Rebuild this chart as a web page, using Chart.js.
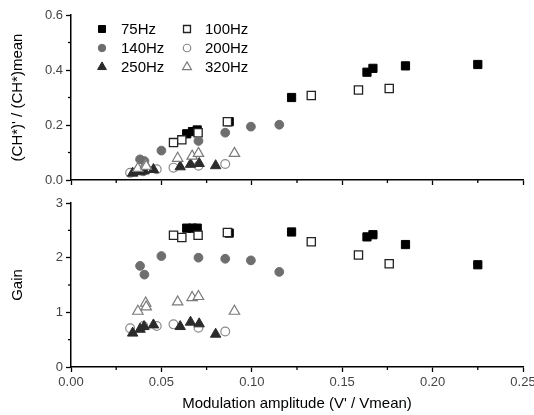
<!DOCTYPE html>
<html>
<head>
<meta charset="utf-8">
<script src="https://cdn.jsdelivr.net/npm/chart.js@4/dist/chart.umd.min.js"></script>
<style>
  body{margin:0;background:#fff;width:534px;height:415px;overflow:hidden}
  .panel{position:absolute;left:0}
</style>
</head>
<body>
<div class="panel" style="top:0"><canvas id="top" width="534" height="200"></canvas></div>
<div class="panel" style="top:190px"><canvas id="bottom" width="534" height="225"></canvas></div>
<script>
// series: x = modulation amplitude, ratio = (CH*)'/(CH*)mean, gain
const labels=['75Hz','100Hz','140Hz','200Hz','250Hz','320Hz']

const x75=[0.064,0.0672,0.0698,0.0875,0.122,0.1637,0.167,0.185,0.225]
const ratio75=[0.168,0.176,0.182,0.212,0.300,0.392,0.406,0.415,0.420]
const gain75=[2.54,2.54,2.54,2.45,2.47,2.38,2.42,2.24,1.87]

const x100=[0.0567,0.0613,0.0703,0.0865,0.1329,0.159,0.176]
const ratio100=[0.136,0.146,0.172,0.212,0.307,0.327,0.333]
const gain100=[2.41,2.37,2.41,2.46,2.29,2.05,1.89]

const x140=[0.0382,0.0406,0.050,0.0705,0.0853,0.0995,0.1152]
const ratio140=[0.075,0.069,0.107,0.142,0.172,0.194,0.201]
const gain140=[1.85,1.69,2.03,2.00,1.98,1.95,1.74]

const x200=[0.0327,0.0400,0.0474,0.0567,0.0705,0.0853]
const ratio200=[0.026,0.032,0.039,0.045,0.052,0.058]
const gain200=[0.71,0.75,0.75,0.78,0.72,0.65]

const x250=[0.0341,0.0382,0.0404,0.0456,0.0604,0.0661,0.0709,0.080]
const ratio250=[0.025,0.030,0.033,0.038,0.048,0.057,0.060,0.052]
const gain250=[0.62,0.69,0.74,0.77,0.74,0.82,0.79,0.60]

const x320=[0.0370,0.0413,0.0416,0.059,0.0670,0.0705,0.0904]
const ratio320=[0.042,0.055,0.050,0.079,0.087,0.097,0.097]
const gain320=[1.02,1.17,1.10,1.19,1.27,1.29,1.02]

const xTicks={min:0,max:0.25,step:0.05}
const ratioTicks={min:0,max:0.6,step:0.2}
const gainTicks={min:0,max:3,step:1}

const FONT='"Liberation Sans", Arial, sans-serif'

const styles=[
    {pointStyle:'rect',radius:5.8,backgroundColor:'#000',borderColor:'#000',borderWidth:1},
    {pointStyle:'rect',radius:5.8,backgroundColor:'#fff',borderColor:'#222',borderWidth:1.3},
    {pointStyle:'circle',radius:4.4,backgroundColor:'#6e6e6e',borderColor:'#6e6e6e',borderWidth:1},
    {pointStyle:'circle',radius:4.4,backgroundColor:'#fff',borderColor:'#8a8a8a',borderWidth:1.2},
    {pointStyle:'triangle',radius:6,backgroundColor:'#2b2b2b',borderColor:'#2b2b2b',borderWidth:1},
    {pointStyle:'triangle',radius:6,backgroundColor:'#fff',borderColor:'#7a7a7a',borderWidth:1.2}
]

function pts(xs,ys){
    return xs.map((x,i)=>({x,y:ys[i]}))
}

function makeDatasets(series){
    return series.map((s,i)=>({
        label:labels[i],
        data:pts(s[0],s[1]),
        order:series.length-1-i,   // later series drawn on top, like the original
        pointStyle:styles[i].pointStyle,
        pointRadius:styles[i].radius,
        pointHoverRadius:styles[i].radius,
        backgroundColor:styles[i].backgroundColor,
        borderColor:styles[i].borderColor,
        pointBorderWidth:styles[i].borderWidth,
        showLine:false
    }))
}

// short ticks halfway between the major ones
const minorTicks={
    id:'minorTicks',
    afterDraw(chart){
        const ctx=chart.ctx
        ctx.save()
        ctx.strokeStyle='#000'
        ctx.lineWidth=1.3
        for(const id of ['x','y']){
            const sc=chart.scales[id]
            const t=sc.ticks
            for(let i=0;i<t.length-1;i++){
                const v=(t[i].value+t[i+1].value)/2
                const p=sc.getPixelForValue(v)
                ctx.beginPath()
                if(id==='x'){
                    ctx.moveTo(p,chart.chartArea.bottom)
                    ctx.lineTo(p,chart.chartArea.bottom+3)
                }else{
                    ctx.moveTo(chart.chartArea.left,p)
                    ctx.lineTo(chart.chartArea.left-3,p)
                }
                ctx.stroke()
            }
        }
        ctx.restore()
    }
}

// two column legend in the upper left of the top panel
const gridLegend={
    id:'gridLegend',
    afterDraw(chart){
        const ctx=chart.ctx
        const a=chart.chartArea
        ctx.save()
        ctx.font='15px '+FONT
        ctx.textBaseline='middle'
        labels.forEach((lab,i)=>{
            const col=i%2, row=Math.floor(i/2)
            const mx=a.left+31+col*85
            const my=a.top+14+row*19
            const st=styles[i]
            ctx.fillStyle=st.backgroundColor
            ctx.strokeStyle=st.borderColor
            ctx.lineWidth=st.borderWidth
            Chart.helpers.drawPoint(ctx,{pointStyle:st.pointStyle,radius:st.radius*0.85,rotation:0,borderWidth:st.borderWidth},mx,my)
            ctx.fillStyle='#000'
            ctx.fillText(lab,mx+19-col*1,my+1)
        })
        ctx.restore()
    }
}

function axis(t,opts){
    return Object.assign({
        type:'linear',
        min:t.min,
        max:t.max,
        border:{display:true,color:'#000',width:1.5},
        grid:{display:true,drawOnChartArea:false,drawTicks:true,tickLength:5,color:'#000',tickWidth:1.3},
        ticks:{stepSize:t.step,color:'#444',font:{family:FONT,size:13},padding:3,maxRotation:0}
    },opts)
}

function buildChart(id,datasets,yt,yTitle,fmt,showX,xHeight,padTop){
    const xOpts=axis(xTicks,{
        afterFit(s){s.height=xHeight;s.paddingLeft=0;s.paddingRight=0}
    })
    xOpts.ticks.display=showX
    xOpts.ticks.callback=v=>v.toFixed(2)
    if(showX){
        xOpts.title={display:true,text:"Modulation amplitude (V' / Vmean)",color:'#000',font:{family:FONT,size:15},padding:{top:0,bottom:2}}
    }
    const yOpts=axis(yt,{
        afterFit(s){s.width=71;s.paddingTop=0;s.paddingBottom=0},
        title:{display:true,text:yTitle,color:'#000',font:{family:FONT,size:15},padding:{top:9,bottom:0}}
    })
    yOpts.ticks.callback=v=>v.toFixed(fmt)
    return new Chart(document.getElementById(id),{
        type:'scatter',
        data:{datasets},
        options:{
            responsive:false,
            animation:false,
            layout:{padding:{top:padTop,right:11,left:0,bottom:0}},
            plugins:{legend:{display:false},tooltip:{enabled:false}},
            scales:{x:xOpts,y:yOpts}
        },
        plugins:id==='top'?[minorTicks,gridLegend]:[minorTicks]
    })
}

const ratioSeries=[[x75,ratio75],[x100,ratio100],[x140,ratio140],[x200,ratio200],[x250,ratio250],[x320,ratio320]]
const gainSeries=[[x75,gain75],[x100,gain100],[x140,gain140],[x200,gain200],[x250,gain250],[x320,gain320]]

buildChart('top',makeDatasets(ratioSeries),ratioTicks,"(CH*)' / (CH*)mean",1,false,20,15)
buildChart('bottom',makeDatasets(gainSeries),gainTicks,'Gain',0,true,48,13)
</script>
</body>
</html>
